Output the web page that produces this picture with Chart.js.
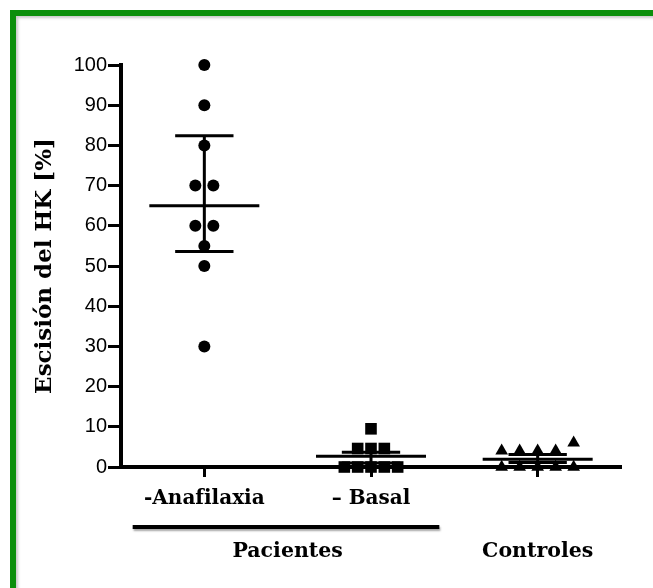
<!DOCTYPE html>
<html lang="es">
<head>
<meta charset="UTF-8">
<title>Escisión del HK</title>
<script src="https://cdn.jsdelivr.net/npm/chart.js"></script>
<style>
  body { margin: 0; background: #fff; }
  #frame {
    position: absolute; left: 10px; top: 10px; width: 700px; height: 640px;
    border-left: 6px solid #0b8f0b; border-top: 6px solid #0b8f0b;
    box-shadow: inset 2px 2px 3px rgba(0,0,0,0.22);
  }
  #chart { position: absolute; left: 0; top: 0; }
</style>
</head>
<body>
<div id="frame"></div>
<canvas id="chart" width="653" height="588"></canvas>
<script>
// categorías y valores
const groups = ['Anafilaxia', 'Basal', 'Controles'];
const tickLabels = ['-Anafilaxia', '– Basal', ''];
const groupLabels = ['Pacientes', 'Controles'];
const groupSpans = [[1, 2], [3, 3]];

const anafilaxia = [100, 90, 80, 70, 70, 60, 60, 55, 50, 30];
const basal = [9.5, 4.6, 4.6, 4.6, 0, 0, 0, 0, 0];
const controles = [6, 4, 4, 4, 4, 0, 0, 0, 0, 0];

const centerLine = [65, 2.7, 1.9];
const barLow = [53.6, 1.0, 1.1];
const barHigh = [82.4, 3.7, 3.1];

const yMin = 0, yMax = 100, yStep = 10;

// puntos repetidos se colocan lado a lado
const BAND = 3;
function spread(values, center, step) {
  const sorted = values.slice().sort((a, b) => a - b);
  const bands = [];
  sorted.forEach(v => {
    const last = bands[bands.length - 1];
    if (last && v - last[0] < BAND) last.push(v); else bands.push([v]);
  });
  const pts = [];
  bands.forEach(b => b.forEach((v, k) => pts.push({ x: center + (k - (b.length - 1) / 2) * step, y: v })));
  return pts;
}

const MEAN_HALF = 0.33, CAP_HALF = 0.175;
function barLines(c, mid, lo, hi) {
  return [
    { x: c - MEAN_HALF, y: mid }, { x: c + MEAN_HALF, y: mid }, { x: c, y: null },
    { x: c - CAP_HALF, y: hi }, { x: c + CAP_HALF, y: hi }, { x: c, y: null },
    { x: c - CAP_HALF, y: lo }, { x: c + CAP_HALF, y: lo }, { x: c, y: null },
    { x: c, y: lo }, { x: c, y: hi }
  ];
}

const serif = '"DejaVu Serif", serif';

const pointSets = [
  { data: spread(anafilaxia, 1, 0.108), pointStyle: 'circle', pointRadius: 6 },
  { data: spread(basal, 2, 0.08), pointStyle: 'rect', pointRadius: 8.2 },
  { data: spread(controles, 3, 0.108), pointStyle: 'triangle', pointRadius: 7.3 }
].map((d, i) => Object.assign({
  label: groups[i],
  backgroundColor: '#000',
  borderColor: '#000',
  borderWidth: 0,
  clip: false,
  order: 1
}, d));

const lineSets = groups.map((g, i) => ({
  label: g + ' media',
  data: barLines(i + 1, centerLine[i], barLow[i], barHigh[i]),
  showLine: true,
  spanGaps: false,
  borderColor: '#000',
  borderWidth: 3,
  pointRadius: 0,
  clip: false,
  order: 2
}));

const groupPlugin = {
  id: 'groupPlugin',
  afterDraw(chart) {
    const ctx = chart.ctx;
    const xs = chart.scales.x;
    const base = chart.chartArea.bottom;
    ctx.save();
    groupLabels.forEach((lab, i) => {
      const [a, b] = groupSpans[i];
      const x0 = xs.getPixelForValue(a), x1 = xs.getPixelForValue(b);
      if (a !== b) {
        ctx.save();
        ctx.shadowColor = 'rgba(0,0,0,0.35)';
        ctx.shadowOffsetX = 1;
        ctx.shadowOffsetY = 2;
        ctx.shadowBlur = 2;
        ctx.strokeStyle = '#000';
        ctx.lineWidth = 4;
        ctx.beginPath();
        ctx.moveTo(x0 - 0.43 * (x1 - x0), base + 60);
        ctx.lineTo(x1 + 0.41 * (x1 - x0), base + 60);
        ctx.stroke();
        ctx.restore();
      }
      ctx.fillStyle = '#000';
      ctx.font = 'bold 20.5px ' + serif;
      ctx.textAlign = 'center';
      ctx.textBaseline = 'middle';
      ctx.fillText(lab, (x0 + x1) / 2, base + 85);
    });
    ctx.restore();
  }
};

new Chart(document.getElementById('chart'), {
  type: 'scatter',
  data: { datasets: [...lineSets, ...pointSets] },
  options: {
    responsive: false,
    devicePixelRatio: 1,
    animation: false,
    events: [],
    layout: { padding: { top: 65, right: 32, left: 0, bottom: 0 } },
    plugins: { legend: { display: false }, tooltip: { enabled: false } },
    scales: {
      x: {
        type: 'linear',
        min: 0.5,
        max: 3.5,
        afterBuildTicks: s => { s.ticks = groups.map((g, i) => ({ value: i + 1 })); },
        afterFit: s => { s.height = 121; },
        border: { display: true, color: '#000', width: 4 },
        grid: { drawOnChartArea: false, drawTicks: true, tickLength: 10, tickWidth: 3, tickColor: '#000' },
        ticks: {
          padding: 10,
          color: '#000',
          font: { family: serif, size: 20, weight: 'bold' },
          callback: (v) => tickLabels[Math.round(v) - 1]
        }
      },
      y: {
        min: yMin,
        max: yMax,
        afterFit: s => { s.width = 121; },
        border: { display: true, color: '#000', width: 4 },
        grid: { drawOnChartArea: false, drawTicks: true, tickLength: 13, tickWidth: 3, tickColor: '#000' },
        ticks: {
          stepSize: yStep,
          padding: 1,
          color: '#000',
          font: { family: '"Liberation Sans", Arial, sans-serif', size: 20 }
        },
        title: {
          display: true,
          text: 'Escisión del HK [%]',
          color: '#000',
          font: { family: serif, size: 23, weight: 'bold' },
          padding: { top: 31, bottom: 0 }
        }
      }
    }
  },
  plugins: [groupPlugin]
});
</script>
</body>
</html>
